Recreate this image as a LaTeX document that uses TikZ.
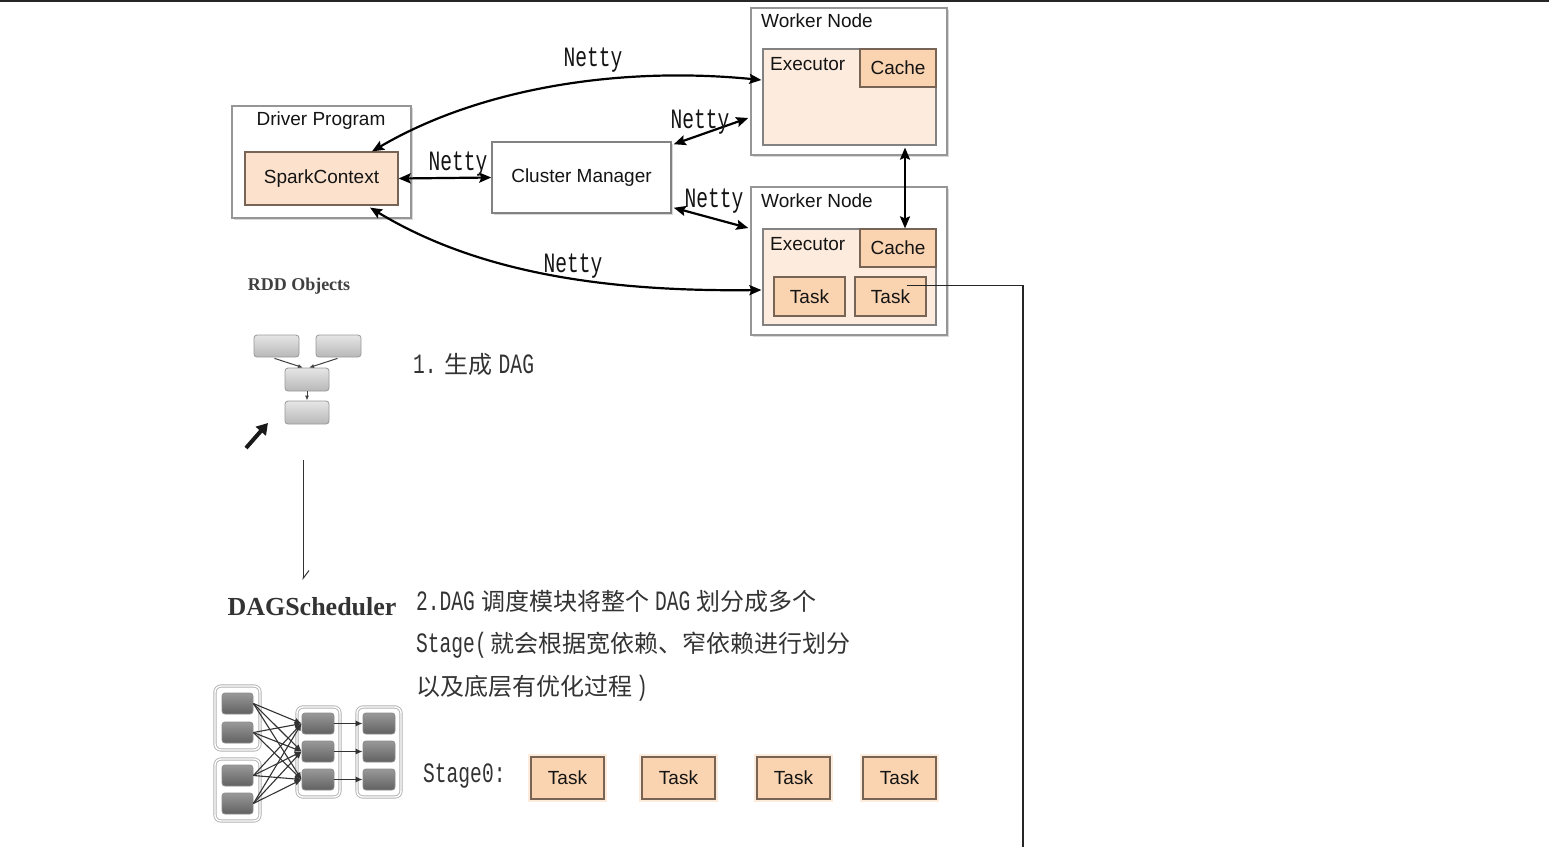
\documentclass[tikz,border=0pt]{standalone}
\usepackage{fontspec}
\usetikzlibrary{arrows.meta,calc,shadows}
\newfontfamily\sansf{Liberation Sans}
\newfontfamily\serf{Liberation Serif}
\newfontfamily\latf[FakeStretch=0.7]{Liberation Mono}
\newfontfamily\cjkf{Noto Sans CJK SC}
\newcommand\latt{\latf\fontsize{28}{34}\selectfont}
\definecolor{peach}{RGB}{250,211,176}
\definecolor{peachl}{RGB}{252,226,205}
\definecolor{execf}{RGB}{253,236,222}
\definecolor{pbord}{RGB}{120,100,85}
\definecolor{obord}{RGB}{150,150,150}
\definecolor{ebord}{RGB}{130,130,130}
\definecolor{txt}{RGB}{20,20,20}
\tikzset{
  outerbox/.style={draw=obord, line width=1.5pt, fill=white, inner sep=0pt,
    drop shadow={shadow xshift=1.5pt, shadow yshift=-1.5pt, fill=black!30, opacity=0.5}},
  execbox/.style={draw=ebord, line width=1.2pt, fill=execf, inner sep=0pt},
  peachbox/.style={draw=pbord, line width=1.2pt, fill=peach, inner sep=0pt,
    font=\sansf\fontsize{19}{21}\selectfont, text=txt},
  glowbox/.style={peachbox, preaction={draw=peach!45, line width=6pt}},
  lbl/.style={font=\sansf\fontsize{19}{21}\selectfont, text=txt, inner sep=0pt},
  nettylbl/.style={font=\latt, text=txt, inner sep=0pt, anchor=base},
  cjktext/.style={font=\cjkf\fontsize{24}{30}\selectfont, text=black!80, inner sep=0pt, anchor=base west},
  conn/.style={line width=2.2pt, {Stealth[length=12pt,width=10pt,inset=2pt]}-{Stealth[length=12pt,width=10pt,inset=2pt]}},
  rddbox/.style={draw=black!40, line width=0.8pt, rounded corners=3pt, top color=black!10, bottom color=black!28, inner sep=0pt, minimum width=45pt, minimum height=22pt},
  dagbox/.style={draw=black!45, line width=0.8pt, rounded corners=3pt, top color=black!40, bottom color=black!62, inner sep=0pt, minimum width=31pt, minimum height=21pt},
  dagframe/.style={draw=black!30, line width=0.9pt, double=white, double distance=1.4pt, rounded corners=6pt, fill=white, inner sep=0pt},
  dagedge/.style={line width=1.1pt, draw=black!80, -{Latex[length=7pt,width=6pt]}},
}
\begin{document}
\begin{tikzpicture}[x=1pt,y=-1pt]
\useasboundingbox (0,0) rectangle (1549,847);
\fill[white] (0,0) rectangle (1549,847);
% top border line
\coordinate (tl) at (0,1);
\coordinate (tr) at (1549,1);
\draw[line width=2pt, black!85] (tl) -- (tr);

% Driver program
\node[outerbox, minimum width=179pt, minimum height=112pt] (dp) at (321.5,162) {};
\node[lbl] (dpl) at (321,121) {Driver Program};
\node[peachbox, fill=peachl, minimum width=153pt, minimum height=53pt] (sc) at (321.5,178.5) {SparkContext};

% Cluster manager
\node[draw=ebord, line width=1.5pt, fill=white, inner sep=0pt, minimum width=179pt, minimum height=71pt,
  drop shadow={shadow xshift=1.5pt, shadow yshift=-1.5pt, fill=black!30, opacity=0.5},
  font=\sansf\fontsize{19}{21}\selectfont, text=txt] (cm) at (581.5,177.5) {Cluster Manager};

% Worker 1
\node[outerbox, minimum width=196pt, minimum height=147pt] (w1) at (849,81.5) {};
\node[lbl, anchor=west] (w1l) at (761,21) {Worker Node};
\node[execbox, minimum width=173pt, minimum height=96pt] (e1) at (849.5,97) {};
\node[lbl, anchor=west] (e1l) at (770,64) {Executor};
\node[peachbox, minimum width=76pt, minimum height=38pt] (c1) at (898,68) {Cache};

% Worker 2
\node[outerbox, minimum width=196pt, minimum height=148pt] (w2) at (849,261) {};
\node[lbl, anchor=west] (w2l) at (761,201) {Worker Node};
\node[execbox, minimum width=173pt, minimum height=96pt] (e2) at (849.5,277) {};
\node[lbl, anchor=west] (e2l) at (770,244) {Executor};
\node[peachbox, minimum width=76pt, minimum height=38pt] (c2) at (898,248) {Cache};
\node[peachbox, minimum width=71pt, minimum height=39pt] (ta) at (809.5,296.5) {Task};
\node[peachbox, minimum width=71pt, minimum height=39pt] (tb) at (890.5,296.5) {Task};

% connectors
\draw[conn] (sc.east) -- (cm.west);
\draw[conn] ($(cm.north east)+(2,3)$) -- ($(w1.west)+(-2,36.5)$);
\draw[conn] ($(cm.south east)+(2,-6)$) -- ($(w2.west)+(-2,-33)$);
\draw[conn] ($(sc.north)+(50.5,0)$) .. controls (480,88) and (620,66) .. ($(e1.west)+(-1,-17)$);
\draw[conn] ($(sc.south)+(48.5,2)$) .. controls (470,268) and (590,292) .. ($(e2.west)+(-1,13)$);
\draw[conn] ($(e1.south)+(55.5,2)$) -- ($(c2.north)+(7,0)$);

\node[nettylbl] (n1) at (593,66) {Netty};
\node[nettylbl] (n2) at (700,128) {Netty};
\node[nettylbl] (n3) at (458,170) {Netty};
\node[nettylbl] (n4) at (714,207) {Netty};
\node[nettylbl] (n5) at (573,272) {Netty};

% line from task
\coordinate (lineend) at (1023,847);
\draw[line width=1.1pt, black!85] ($(tb.center)+(16,-11)$) -| (lineend);

% RDD objects
\node[font=\serf\bfseries\fontsize{18}{20}\selectfont, text=black!75, inner sep=0pt] (rddl) at (299,286) {RDD Objects};
\node[rddbox] (r1) at (276.5,346) {};
\node[rddbox] (r2) at (338.5,346) {};
\node[rddbox, minimum width=44pt, minimum height=23pt] (r3) at (307,379.5) {};
\node[rddbox, minimum width=44pt, minimum height=23pt] (r4) at (307,412.5) {};
\draw[line width=1pt, black!75, -{Latex[length=5pt,width=4pt]}] ($(r1.south)+(-2,1)$) -- ($(r3.north)+(-4,0)$);
\draw[line width=1pt, black!75, -{Latex[length=5pt,width=4pt]}] ($(r2.south)+(-1,1)$) -- ($(r3.north)+(2,0)$);
\draw[line width=1pt, black!75, -{Latex[length=5pt,width=4pt]}] (r3.south) -- (r4.north);
\coordinate (ba1) at (246,448);
\coordinate (ba2) at (268,423);
\draw[line width=4pt, black!90, -{Triangle[length=11pt,width=13pt]}] (ba1) -- (ba2);

\node[cjktext] (t1) at (413,373) {{\latt 1.}\hspace{8pt}生成\hspace{6pt}{\latt DAG}};

% down arrow
\coordinate (da1) at (303,460);
\coordinate (da2) at (303,580);
\draw[line width=1pt, black!80, -{Straight Barb[left,length=8pt,width=12pt]}] (da1) -- (da2);

\node[font=\serf\bfseries\fontsize{26}{28}\selectfont, text=black!80, inner sep=0pt] (dags) at (312,607) {DAGScheduler};

\node[cjktext] (t2) at (416,610) {{\latt 2.DAG}\hspace{6pt}调度模块将整个\hspace{6pt}{\latt DAG}\hspace{6pt}划分成多个};
\node[cjktext] (t3) at (416,652) {{\latt Stage(}\hspace{4pt}就会根据宽依赖、窄依赖进行划分};
\node[cjktext] (t4) at (416,695) {以及底层有优化过程\hspace{4pt}{\latt )}};

% DAG graph
\node[dagframe, minimum width=45pt, minimum height=64pt] (fa1) at (237.5,718) {};
\node[dagframe, minimum width=45pt, minimum height=62pt] (fa2) at (237.5,790) {};
\node[dagframe, minimum width=43pt, minimum height=90pt] (fb) at (318.5,752) {};
\node[dagframe, minimum width=44pt, minimum height=90pt] (fc) at (379,752) {};
\node[dagbox] (a1) at (237.5,703.5) {};
\node[dagbox] (a2) at (237.5,732.5) {};
\node[dagbox] (a3) at (237.5,775.5) {};
\node[dagbox] (a4) at (237.5,803.5) {};
\node[dagbox, minimum width=32pt] (b1) at (318,723.5) {};
\node[dagbox, minimum width=32pt] (b2) at (318,751.5) {};
\node[dagbox, minimum width=32pt] (b3) at (318,779.5) {};
\node[dagbox, minimum width=32pt] (d1) at (379,723.5) {};
\node[dagbox, minimum width=32pt] (d2) at (379,751.5) {};
\node[dagbox, minimum width=32pt] (d3) at (379,779.5) {};
\foreach \a in {a1,a2,a3,a4}{
  \foreach \b in {b1,b2,b3}{
    \draw[dagedge] (\a.east) -- (\b.west);
  }
}
\draw[dagedge] (b1.east) -- (d1.west);
\draw[dagedge] (b2.east) -- (d2.west);
\draw[dagedge] (b3.east) -- (d3.west);

% Stage0 tasks
\node[font=\latt, text=black!80, inner sep=0pt, anchor=base west] (st) at (423,782) {Stage0:};
\node[glowbox, minimum width=73pt, minimum height=42pt] (s1) at (567.5,778) {Task};
\node[glowbox, minimum width=73pt, minimum height=42pt] (s2) at (678.5,778) {Task};
\node[glowbox, minimum width=73pt, minimum height=42pt] (s3) at (793.5,778) {Task};
\node[glowbox, minimum width=73pt, minimum height=42pt] (s4) at (899.5,778) {Task};
\end{tikzpicture}
\end{document}
